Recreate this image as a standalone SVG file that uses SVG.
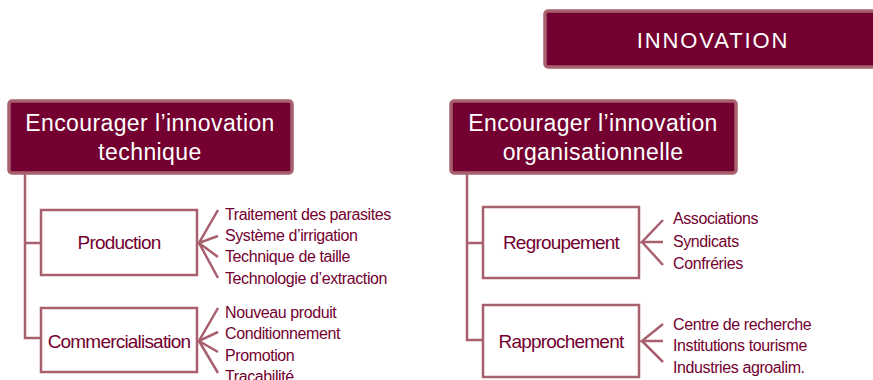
<svg xmlns="http://www.w3.org/2000/svg" width="873" height="380" viewBox="0 0 873 380">
<style>
.head{fill:#730030;stroke:#A8606E;stroke-width:3.5}
.sub{fill:#fff;stroke:#A8606E;stroke-width:2.5}
.ln{fill:none;stroke:#A8606E;stroke-width:2.5}
.ht{font-family:"Liberation Sans",Arial,sans-serif;font-size:23px;letter-spacing:0.4px;fill:#fff;text-anchor:middle}
.st{font-family:"Liberation Sans",Arial,sans-serif;font-size:19px;letter-spacing:-0.8px;fill:#730030;text-anchor:middle}
.it{font-family:"Liberation Sans",Arial,sans-serif;font-size:16px;letter-spacing:-0.4px;fill:#730030}
</style>
<rect width="873" height="380" fill="#fff"/>
<g id="innovation">
<rect class="head" x="545" y="11" width="335" height="56" rx="3"/>
<text x="713" y="48" font-family="'Liberation Sans',Arial,sans-serif" font-size="22" letter-spacing="1.9" fill="#fff" text-anchor="middle">INNOVATION</text>
</g>
<g id="connectors">
<path class="ln" d="M25 174V338H40M25 243H40"/>
<path class="ln" d="M218 210L199 243L218 236M199 243L218 257M199 243L218 278"/>
<path class="ln" d="M218 308L199 341L218 332M199 341L218 352M199 341L218 373"/>
<path class="ln" d="M467 174V340H483M467 243H483"/>
<path class="ln" d="M663 220L642 242H663M642 242L663 265"/>
<path class="ln" d="M663 324L642 341H663M642 341L663 362"/>
</g>
<g id="tech">
<rect class="head" x="9" y="101" width="283" height="72" rx="3"/>
<text class="ht" x="150" y="131">Encourager l’innovation</text>
<text class="ht" x="150" y="160">technique</text>
</g>
<g id="orga">
<rect class="head" x="451" y="101" width="285" height="72" rx="3"/>
<text class="ht" x="593" y="131">Encourager l’innovation</text>
<text class="ht" x="593" y="160">organisationnelle</text>
</g>
<g id="production">
<rect class="sub" x="41" y="210" width="156" height="65"/>
<text class="st" x="119" y="249">Production</text>
</g>
<g id="production-items">
<text class="it" x="225" y="220">Traitement des parasites</text>
<text class="it" x="225" y="241">Système d’irrigation</text>
<text class="it" x="225" y="262">Technique de taille</text>
<text class="it" x="225" y="284">Technologie d’extraction</text>
</g>
<g id="commercialisation">
<rect class="sub" x="41" y="308" width="156" height="64"/>
<text class="st" x="119" y="348">Commercialisation</text>
</g>
<g id="commercialisation-items">
<text class="it" x="225" y="318">Nouveau produit</text>
<text class="it" x="225" y="339">Conditionnement</text>
<text class="it" x="225" y="361">Promotion</text>
<text class="it" x="225" y="382">Traçabilité</text>
</g>
<g id="regroupement">
<rect class="sub" x="483" y="207" width="156" height="71"/>
<text class="st" x="561" y="249">Regroupement</text>
</g>
<g id="regroupement-items">
<text class="it" x="673" y="224">Associations</text>
<text class="it" x="673" y="247">Syndicats</text>
<text class="it" x="673" y="269">Confréries</text>
</g>
<g id="rapprochement">
<rect class="sub" x="483" y="305" width="156" height="72"/>
<text class="st" x="561" y="348">Rapprochement</text>
</g>
<g id="rapprochement-items">
<text class="it" x="673" y="330">Centre de recherche</text>
<text class="it" x="673" y="351">Institutions tourisme</text>
<text class="it" x="673" y="373">Industries agroalim.</text>
</g>
</svg>
